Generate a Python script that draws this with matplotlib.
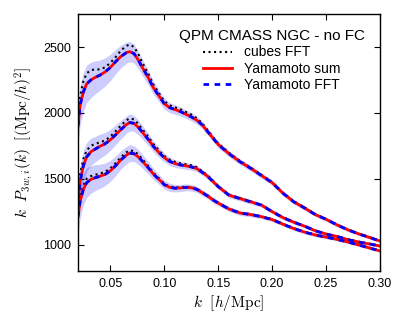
import matplotlib
matplotlib.use("Agg")
import matplotlib.pyplot as plt
import numpy as np

plt.rcParams['font.family'] = ['Liberation Sans', 'DejaVu Sans']
plt.rcParams['mathtext.fontset'] = 'cm'

k = [0.020, 0.022, 0.025, 0.028, 0.032, 0.036, 0.040, 0.045, 0.050, 0.055,
     0.060, 0.065, 0.068, 0.072, 0.076, 0.080, 0.085, 0.090, 0.095, 0.100,
     0.105, 0.110, 0.115, 0.120, 0.125, 0.130, 0.135, 0.140, 0.145, 0.150,
     0.160, 0.170, 0.180, 0.190, 0.200, 0.210, 0.220, 0.230, 0.240, 0.250,
     0.260, 0.270, 0.280, 0.290, 0.300]

# Yamamoto (sum and FFT practically identical)
yam_top = [1900, 2060, 2160, 2220, 2250, 2270, 2285, 2310, 2345, 2390,
           2430, 2458, 2465, 2450, 2400, 2340, 2270, 2190, 2130, 2070,
           2040, 2025, 2010, 1990, 1970, 1945, 1910, 1860, 1810, 1760,
           1690, 1630, 1580, 1525, 1470, 1390, 1325, 1278, 1228, 1192,
           1150, 1113, 1082, 1055, 1027]
yam_mid = [1330, 1480, 1600, 1665, 1705, 1725, 1745, 1765, 1795, 1835,
           1875, 1912, 1927, 1920, 1890, 1850, 1800, 1745, 1700, 1660,
           1632, 1615, 1605, 1598, 1590, 1578, 1550, 1520, 1480, 1440,
           1375, 1350, 1325, 1300, 1250, 1205, 1170, 1140, 1105, 1080,
           1062, 1038, 1020, 1005, 989]
yam_bot = [1210, 1330, 1420, 1470, 1495, 1508, 1518, 1533, 1560, 1600,
           1645, 1680, 1695, 1690, 1665, 1630, 1585, 1535, 1495, 1455,
           1435, 1428, 1430, 1435, 1432, 1420, 1395, 1370, 1340, 1315,
           1270, 1240, 1228, 1212, 1190, 1155, 1122, 1095, 1073, 1057,
           1040, 1020, 998, 975, 952]

# cubes FFT
cub_top = [1980, 2130, 2240, 2300, 2325, 2330, 2330, 2345, 2380, 2425,
           2475, 2510, 2518, 2500, 2445, 2375, 2300, 2215, 2150, 2090,
           2058, 2042, 2027, 2007, 1987, 1960, 1923, 1870, 1818, 1768,
           1697, 1636, 1585, 1530, 1475, 1394, 1329, 1282, 1231, 1195,
           1153, 1116, 1085, 1057, 1029]
cub_mid = [1400, 1540, 1650, 1715, 1750, 1765, 1775, 1790, 1820, 1862,
           1905, 1945, 1958, 1950, 1915, 1872, 1820, 1762, 1715, 1673,
           1645, 1628, 1617, 1610, 1602, 1588, 1558, 1527, 1486, 1445,
           1380, 1354, 1329, 1303, 1253, 1208, 1172, 1142, 1107, 1082,
           1064, 1040, 1022, 1007, 991]
cub_bot = [1250, 1370, 1450, 1500, 1520, 1530, 1538, 1552, 1578, 1620,
           1665, 1702, 1715, 1710, 1683, 1645, 1598, 1545, 1504, 1462,
           1441, 1434, 1436, 1440, 1437, 1425, 1400, 1374, 1344, 1319,
           1274, 1243, 1231, 1215, 1193, 1158, 1125, 1098, 1075, 1059,
           1042, 1022, 1000, 977, 954]

# error-band half widths
err_top = [150, 150, 148, 142, 135, 125, 115, 107, 100, 92,
           85, 80, 77, 72, 67, 62, 56, 50, 45, 41,
           38, 36, 34, 32, 31, 30, 29, 28, 27, 26,
           24, 23, 22, 21, 20, 19, 18, 17, 16, 15,
           15, 14, 14, 13, 13]
err_mid = [120, 118, 115, 110, 103, 97, 92, 86, 80, 75,
           70, 66, 64, 60, 56, 52, 47, 42, 38, 34,
           31, 29, 27, 26, 25, 24, 23, 22, 21, 20,
           19, 18, 17, 16, 15, 15, 14, 14, 13, 13,
           12, 12, 12, 11, 11]
err_bot = [135, 128, 120, 113, 105, 98, 92, 86, 80, 75,
           70, 66, 64, 60, 56, 52, 47, 42, 38, 34,
           31, 29, 27, 26, 25, 24, 23, 22, 21, 20,
           19, 18, 17, 16, 15, 15, 14, 14, 13, 13,
           12, 12, 12, 11, 11]

title = "QPM CMASS NGC - no FC"

fig = plt.figure(figsize=(4.07, 3.28), dpi=100)
ax = fig.add_axes([0.1916, 0.174, 0.7421, 0.783])

kk = np.array(k)
for yam, cub, err in [(yam_top, cub_top, err_top),
                      (yam_mid, cub_mid, err_mid),
                      (yam_bot, cub_bot, err_bot)]:
    y = np.array(yam)
    e = np.array(err)
    ax.fill_between(kk, y - e, y + e, color='blue', alpha=0.2, linewidth=0)

for i, (yam, cub) in enumerate([(yam_top, cub_top), (yam_mid, cub_mid), (yam_bot, cub_bot)]):
    ax.plot(kk, cub, color='k', ls=':', lw=1.5,
            label='cubes FFT' if i == 0 else None)
    ax.plot(kk, yam, color='red', ls='-', lw=2,
            label='Yamamoto sum' if i == 0 else None)
    ax.plot(kk, yam, color='blue', ls=(0, (2, 2)), lw=2,
            label='Yamamoto FFT' if i == 0 else None)

ax.set_xlim(0.02, 0.30)
ax.set_ylim(800, 2750)
ax.set_xticks([0.05, 0.10, 0.15, 0.20, 0.25, 0.30])
ax.set_xticklabels(['0.05', '0.10', '0.15', '0.20', '0.25', '0.30'])
ax.set_yticks([1000, 1500, 2000, 2500])
ax.tick_params(direction='in', top=True, right=True, labelsize=9,
               length=4, width=0.8, pad=5)
for s in ax.spines.values():
    s.set_linewidth(1.0)

ax.set_xlabel(r'$k\ \ [h/\mathrm{Mpc}]$', fontsize=11, labelpad=2)
ax.set_ylabel(r'$k\ \ P_{3w,i}(k)\ \ [(\mathrm{Mpc}/h)^2]$', fontsize=11, labelpad=6)

leg = ax.legend(loc='upper right', frameon=False, fontsize=10, title=title,
                title_fontsize=11, handlelength=2.1, handletextpad=0.9,
                labelspacing=0.15, borderaxespad=0.7)

fig.savefig('out.png', dpi=100)
